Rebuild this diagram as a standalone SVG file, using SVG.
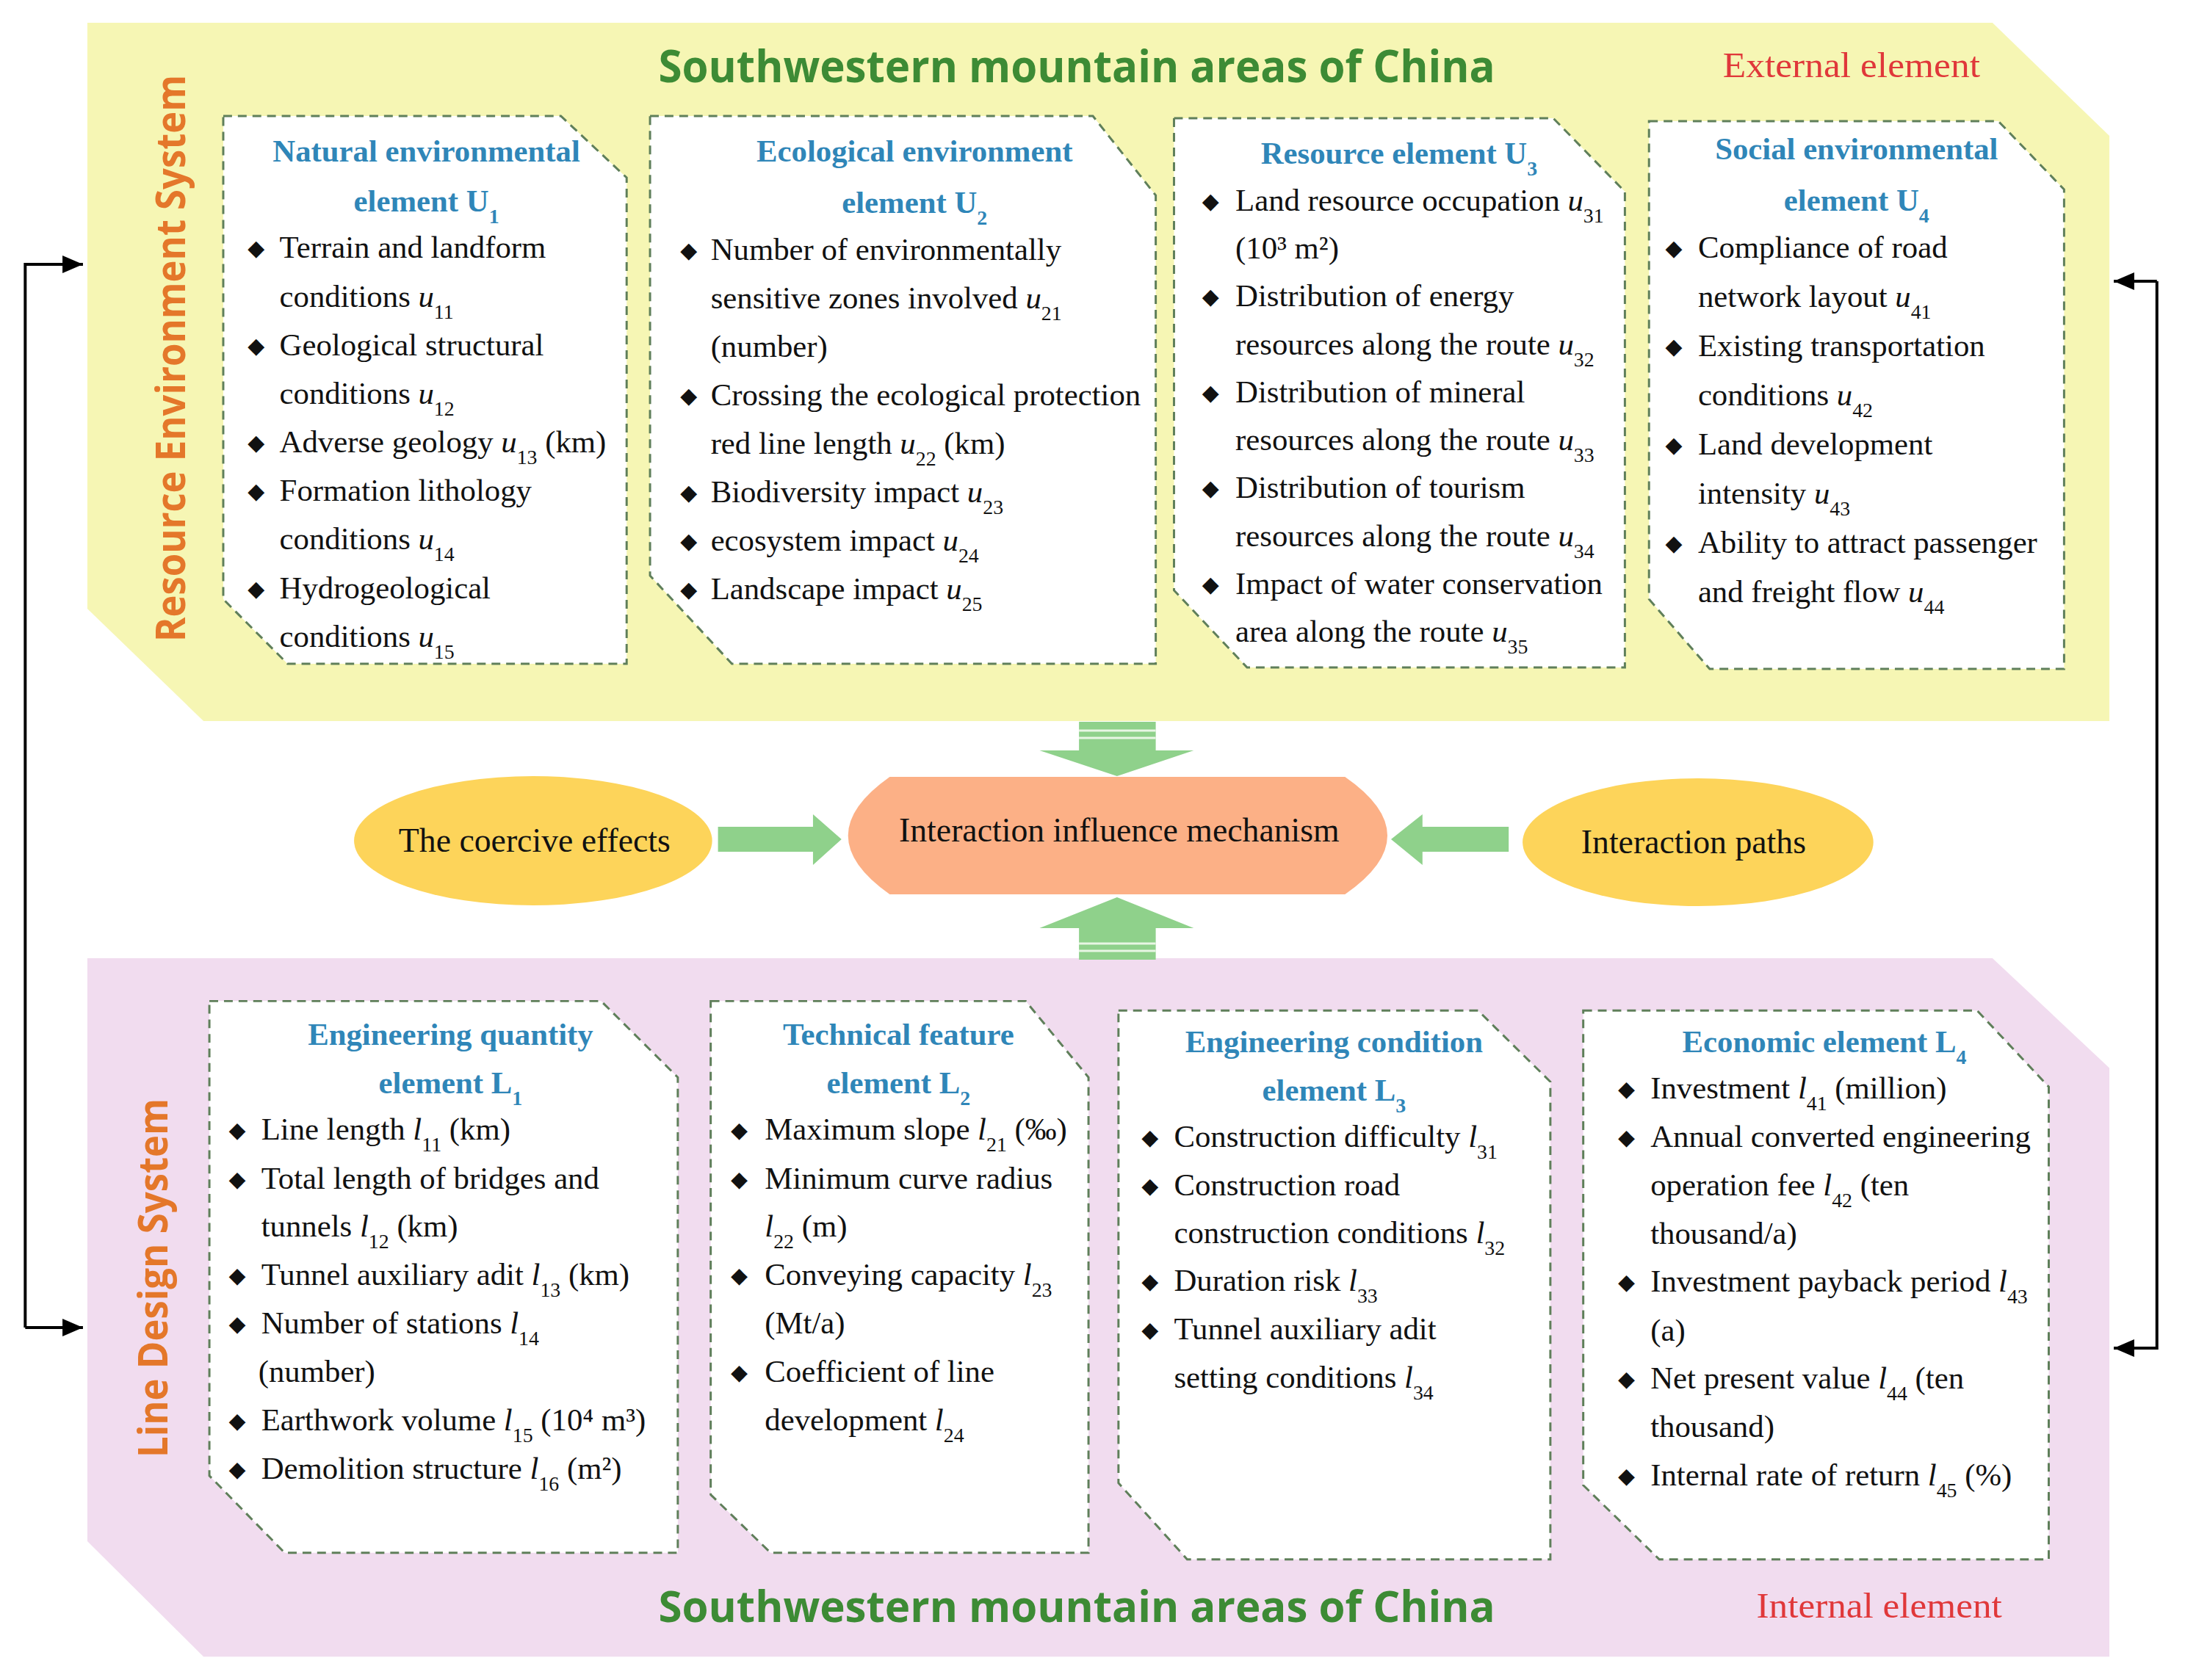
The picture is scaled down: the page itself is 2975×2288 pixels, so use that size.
<svg xmlns="http://www.w3.org/2000/svg" width="2975" height="2288" viewBox="0 0 2975 2288">
<style>
.t{font-family:"Liberation Serif","Times New Roman",Times,"DejaVu Serif",serif;font-size:43px;fill:#111}
.h{font-family:"Liberation Serif","Times New Roman",Times,"DejaVu Serif",serif;font-size:43px;font-weight:bold;fill:#2f86b8;text-anchor:middle}
.b{font-family:"DejaVu Sans",sans-serif;font-size:30px;fill:#111;text-anchor:middle}
.i{font-style:italic}
.s{font-size:28px;baseline-shift:sub}
.hs{font-size:28px;baseline-shift:sub}
.box{fill:#fff;stroke:#5f7f5a;stroke-width:3;stroke-dasharray:12 8}
.title{font-family:"Open Sans","DejaVu Sans",sans-serif;font-weight:bold;font-size:60px;fill:#3d8b35;text-anchor:middle}
.side{font-family:"Open Sans","DejaVu Sans",sans-serif;font-weight:bold;font-size:56px;fill:#e4772a;text-anchor:middle}
.red{font-family:"Liberation Serif","Times New Roman",Times,"DejaVu Serif",serif;font-size:48px;fill:#e0383a}
.arr{fill:#8fd18b}
.c{font-family:"Liberation Serif","Times New Roman",Times,"DejaVu Serif",serif;font-size:46px;fill:#111;text-anchor:middle}
.ln{fill:none;stroke:#000;stroke-width:4}
</style>
<defs>
<marker id="ah" markerWidth="8" markerHeight="8" refX="7" refY="4" orient="auto" markerUnits="strokeWidth"><path d="M0,1 L7,4 L0,7 Z" fill="#000"/></marker>
</defs>
<rect width="2975" height="2288" fill="#fff"/>
<g transform="matrix(0.995,0,0,1,1.5,0)">
<g id="panel-top">
<polygon points="118,31 2725,31 2885,185 2885,982 277,982 118,829" fill="#f6f6b4"/>
<text class="title" x="1472" y="112" textLength="1145" lengthAdjust="spacingAndGlyphs">Southwestern mountain areas of China</text>
<text class="red" x="2356" y="105" textLength="352" lengthAdjust="spacingAndGlyphs">External element</text>
<text class="side" transform="translate(252,488) rotate(-90)" textLength="772" lengthAdjust="spacingAndGlyphs">Resource Environment System</text>
</g>

<g id="U1">
<polygon class="box" points="304,158 766,158 856,242 856,904 392,904 304,816"/>
<text class="h" x="582" y="220">Natural environmental</text>
<text class="h" x="582" y="288">element U<tspan class="hs">1</tspan></text>
<g class="b"><text x="349" y="348">◆</text><text x="349" y="481">◆</text><text x="349" y="613">◆</text><text x="349" y="679">◆</text><text x="349" y="812">◆</text></g>
<text class="t" x="381" y="351">Terrain and landform</text>
<text class="t" x="381" y="418">conditions <tspan class="i">u</tspan><tspan class="s">11</tspan></text>
<text class="t" x="381" y="484">Geological structural</text>
<text class="t" x="381" y="550">conditions <tspan class="i">u</tspan><tspan class="s">12</tspan></text>
<text class="t" x="381" y="616">Adverse geology <tspan class="i">u</tspan><tspan class="s">13</tspan> (km)</text>
<text class="t" x="381" y="682">Formation lithology</text>
<text class="t" x="381" y="748">conditions <tspan class="i">u</tspan><tspan class="s">14</tspan></text>
<text class="t" x="381" y="815">Hydrogeological</text>
<text class="t" x="381" y="881">conditions <tspan class="i">u</tspan><tspan class="s">15</tspan></text>
</g>

<g id="U2">
<polygon class="box" points="888,158 1494,158 1580,266 1580,904 1000,904 888,784"/>
<text class="h" x="1250" y="220">Ecological environment</text>
<text class="h" x="1250" y="290">element U<tspan class="hs">2</tspan></text>
<g class="b"><text x="941" y="351">◆</text><text x="941" y="549">◆</text><text x="941" y="681">◆</text><text x="941" y="747">◆</text><text x="941" y="813">◆</text></g>
<text class="t" x="971" y="354">Number of environmentally</text>
<text class="t" x="971" y="420">sensitive zones involved <tspan class="i">u</tspan><tspan class="s">21</tspan></text>
<text class="t" x="971" y="486">(number)</text>
<text class="t" x="971" y="552">Crossing the ecological protection</text>
<text class="t" x="971" y="618">red line length <tspan class="i">u</tspan><tspan class="s">22</tspan> (km)</text>
<text class="t" x="971" y="684">Biodiversity impact <tspan class="i">u</tspan><tspan class="s">23</tspan></text>
<text class="t" x="971" y="750">ecosystem impact <tspan class="i">u</tspan><tspan class="s">24</tspan></text>
<text class="t" x="971" y="816">Landscape impact  <tspan class="i">u</tspan><tspan class="s">25</tspan></text>
</g>

<g id="U3">
<polygon class="box" points="1605,161 2124,161 2222,261 2222,909 1705,909 1605,804"/>
<text class="h" x="1913" y="223">Resource element U<tspan class="hs">3</tspan></text>
<g class="b"><text x="1655" y="284">◆</text><text x="1655" y="414">◆</text><text x="1655" y="545">◆</text><text x="1655" y="675">◆</text><text x="1655" y="806">◆</text></g>
<text class="t" x="1689" y="287">Land resource occupation <tspan class="i">u</tspan><tspan class="s">31</tspan></text>
<text class="t" x="1689" y="352">(10³ m²)</text>
<text class="t" x="1689" y="417">Distribution of energy</text>
<text class="t" x="1689" y="483">resources along the route <tspan class="i">u</tspan><tspan class="s">32</tspan></text>
<text class="t" x="1689" y="548">Distribution of mineral</text>
<text class="t" x="1689" y="613">resources along the route <tspan class="i">u</tspan><tspan class="s">33</tspan></text>
<text class="t" x="1689" y="678">Distribution of tourism</text>
<text class="t" x="1689" y="744">resources along the route <tspan class="i">u</tspan><tspan class="s">34</tspan></text>
<text class="t" x="1689" y="809">Impact of water conservation</text>
<text class="t" x="1689" y="874">area along the route <tspan class="i">u</tspan><tspan class="s">35</tspan></text>
</g>

<g id="U4">
<polygon class="box" points="2255,165 2733,165 2823,258 2823,911 2338,911 2255,816"/>
<text class="h" x="2539" y="217">Social environmental</text>
<text class="h" x="2539" y="287">element U<tspan class="hs">4</tspan></text>
<g class="b"><text x="2289" y="348">◆</text><text x="2289" y="482">◆</text><text x="2289" y="616">◆</text><text x="2289" y="750">◆</text></g>
<text class="t" x="2322" y="351">Compliance of road</text>
<text class="t" x="2322" y="418">network layout <tspan class="i">u</tspan><tspan class="s">41</tspan></text>
<text class="t" x="2322" y="485">Existing transportation</text>
<text class="t" x="2322" y="552">conditions <tspan class="i">u</tspan><tspan class="s">42</tspan></text>
<text class="t" x="2322" y="619">Land development</text>
<text class="t" x="2322" y="686">intensity <tspan class="i">u</tspan><tspan class="s">43</tspan></text>
<text class="t" x="2322" y="753">Ability to attract passenger</text>
<text class="t" x="2322" y="820">and freight flow <tspan class="i">u</tspan><tspan class="s">44</tspan></text>
</g>

<g transform="matrix(1,0,0,0.99,0,13)">
<g id="panel-bottom">
<polygon points="118,1305 2725,1305 2885,1456 2885,2266 277,2266 118,2107" fill="#f1dcef"/>
<text class="title" x="1472" y="2218" textLength="1145" lengthAdjust="spacingAndGlyphs">Southwestern mountain areas of China</text>
<text class="red" x="2402" y="2212" textLength="336" lengthAdjust="spacingAndGlyphs">Internal element</text>
<text class="side" transform="translate(228,1745) rotate(-90)" textLength="494" lengthAdjust="spacingAndGlyphs">Line Design System</text>
</g>

<g id="L1">
<polygon class="box" points="285,1364 821,1364 926,1469 926,2123 388,2123 285,2017"/>
<text class="h" x="615" y="1424">Engineering quantity</text>
<text class="h" x="615" y="1491">element L<tspan class="hs">1</tspan></text>
<g class="b"><text x="323" y="1552">◆</text><text x="323" y="1619">◆</text><text x="323" y="1752">◆</text><text x="323" y="1818">◆</text><text x="323" y="1952">◆</text><text x="323" y="2018">◆</text></g>
<text class="t" x="356" y="1555">Line length <tspan class="i">l</tspan><tspan class="s">11</tspan> (km)</text>
<text class="t" x="356" y="1622">Total length of bridges and</text>
<text class="t" x="356" y="1688">tunnels <tspan class="i">l</tspan><tspan class="s">12</tspan> (km)</text>
<text class="t" x="356" y="1755">Tunnel auxiliary adit  <tspan class="i">l</tspan><tspan class="s">13</tspan> (km)</text>
<text class="t" x="356" y="1821">Number of stations <tspan class="i">l</tspan><tspan class="s">14</tspan></text>
<text class="t" x="352" y="1888">(number)</text>
<text class="t" x="356" y="1955">Earthwork volume <tspan class="i">l</tspan><tspan class="s">15</tspan> (10⁴ m³)</text>
<text class="t" x="356" y="2021">Demolition structure <tspan class="i">l</tspan><tspan class="s">16</tspan> (m²)</text>
</g>

<g id="L2">
<polygon class="box" points="971,1364 1402,1364 1488,1469 1488,2123 1053,2123 971,2043"/>
<text class="h" x="1228" y="1424">Technical feature</text>
<text class="h" x="1228" y="1491">element L<tspan class="hs">2</tspan></text>
<g class="b"><text x="1010" y="1552">◆</text><text x="1010" y="1619">◆</text><text x="1010" y="1752">◆</text><text x="1010" y="1885">◆</text></g>
<text class="t" x="1045" y="1555">Maximum slope <tspan class="i">l</tspan><tspan class="s">21</tspan> (‰)</text>
<text class="t" x="1045" y="1622">Minimum curve radius</text>
<text class="t" x="1045" y="1688"><tspan class="i">l</tspan><tspan class="s">22</tspan> (m)</text>
<text class="t" x="1045" y="1755">Conveying capacity <tspan class="i">l</tspan><tspan class="s">23</tspan></text>
<text class="t" x="1045" y="1821">(Mt/a)</text>
<text class="t" x="1045" y="1888">Coefficient of line</text>
<text class="t" x="1045" y="1955">development <tspan class="i">l</tspan><tspan class="s">24</tspan></text>
</g>

<g id="L3">
<polygon class="box" points="1529,1377 2021,1377 2120,1475 2120,2132 1623,2132 1529,2027"/>
<text class="h" x="1824" y="1434">Engineering condition</text>
<text class="h" x="1824" y="1501">element L<tspan class="hs">3</tspan></text>
<g class="b"><text x="1572" y="1562">◆</text><text x="1572" y="1628">◆</text><text x="1572" y="1760">◆</text><text x="1572" y="1826">◆</text></g>
<text class="t" x="1605" y="1565">Construction difficulty <tspan class="i">l</tspan><tspan class="s">31</tspan></text>
<text class="t" x="1605" y="1631">Construction road</text>
<text class="t" x="1605" y="1697">construction conditions <tspan class="i">l</tspan><tspan class="s">32</tspan></text>
<text class="t" x="1605" y="1763">Duration risk <tspan class="i">l</tspan><tspan class="s">33</tspan></text>
<text class="t" x="1605" y="1829">Tunnel auxiliary adit</text>
<text class="t" x="1605" y="1896">setting conditions <tspan class="i">l</tspan><tspan class="s">34</tspan></text>
</g>

<g id="L4">
<polygon class="box" points="2165,1377 2704,1377 2802,1482 2802,2132 2269,2132 2165,2030"/>
<text class="h" x="2495" y="1434">Economic element L<tspan class="hs">4</tspan></text>
<g class="b"><text x="2224" y="1495">◆</text><text x="2224" y="1562">◆</text><text x="2224" y="1761">◆</text><text x="2224" y="1894">◆</text><text x="2224" y="2027">◆</text></g>
<text class="t" x="2257" y="1498">Investment <tspan class="i">l</tspan><tspan class="s">41</tspan> (million)</text>
<text class="t" x="2257" y="1565">Annual converted engineering</text>
<text class="t" x="2257" y="1631">operation fee <tspan class="i">l</tspan><tspan class="s">42</tspan> (ten</text>
<text class="t" x="2257" y="1698">thousand/a)</text>
<text class="t" x="2257" y="1764">Investment payback period <tspan class="i">l</tspan><tspan class="s">43</tspan></text>
<text class="t" x="2257" y="1831">(a)</text>
<text class="t" x="2257" y="1897">Net present value <tspan class="i">l</tspan><tspan class="s">44</tspan> (ten</text>
<text class="t" x="2257" y="1964">thousand)</text>
<text class="t" x="2257" y="2030">Internal rate of return <tspan class="i">l</tspan><tspan class="s">45</tspan> (%)</text>
</g>
</g>

<g id="center">
<path d="M1216,1058 H1839 Q1955,1138 1839,1218 H1216 Q1102,1138 1216,1058 Z" fill="#fcb086"/>
<text class="c" x="1530" y="1146">Interaction influence mechanism</text>
</g>
<g id="coercive">
<ellipse cx="728" cy="1145" rx="245" ry="88" fill="#fdd45a"/>
<text class="c" x="730" y="1160">The coercive effects</text>
</g>
<g id="paths">
<ellipse cx="2322" cy="1147" rx="240" ry="87" fill="#fdd45a"/>
<text class="c" x="2316" y="1162">Interaction paths</text>
</g>

<g id="connectors">
<path class="arr" d="M1475,983 H1580 V1022 H1632 L1527,1057 L1421,1022 H1475 Z"/>
<path d="M1475,995 H1580 M1475,1005 H1580" stroke="#e8f6e4" stroke-width="3"/>
<path class="arr" d="M1475,1307 H1580 V1264 H1632 L1527,1222 L1421,1264 H1475 Z"/>
<path d="M1475,1285 H1580 M1475,1295 H1580" stroke="#e8f6e4" stroke-width="3"/>
<path class="arr" d="M981,1126 H1111 V1109 L1150,1143 L1111,1178 V1160 H981 Z"/>
<path class="arr" d="M2063,1126 H1945 V1109 L1902,1143 L1945,1178 V1160 H2063 Z"/>
<path class="ln" d="M33,1808 V360 H112" marker-end="url(#ah)"/>
<path class="ln" d="M33,1808 H112" marker-end="url(#ah)"/>
<path class="ln" d="M2950,383 V1836 H2891" marker-end="url(#ah)"/>
<path class="ln" d="M2950,383 H2891" marker-end="url(#ah)"/>
</g>
</g>
</svg>
